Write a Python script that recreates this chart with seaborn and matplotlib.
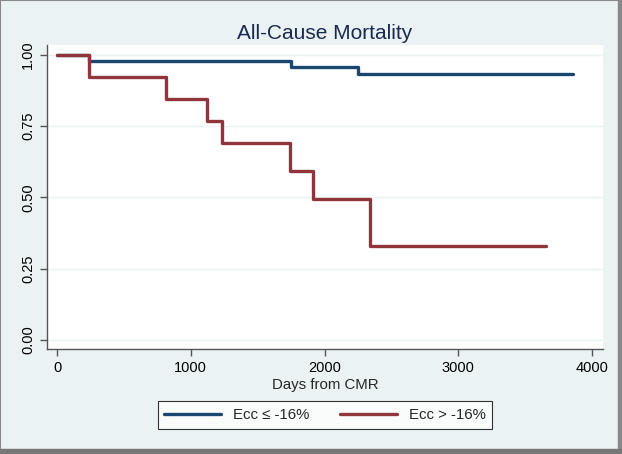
import pandas as pd
import matplotlib.pyplot as plt
import seaborn as sns
from matplotlib.patches import Rectangle

# Kaplan-Meier step values
days_low = [0, 240, 1750, 2250, 3858]
surv_low = [1.0, 0.979, 0.958, 0.933, 0.933]

days_high = [0, 240, 815, 1121, 1234, 1742, 1914, 2340, 3656]
surv_high = [1.0, 0.923, 0.846, 0.769, 0.692, 0.593, 0.495, 0.33, 0.33]

group_labels = ["Ecc \u2264 -16%", "Ecc > -16%"]
group_colors = ["#1a476f", "#90353b"]

df = pd.concat([
    pd.DataFrame({"Days": days_low, "Survival": surv_low, "Group": group_labels[0]}),
    pd.DataFrame({"Days": days_high, "Survival": surv_high, "Group": group_labels[1]}),
])

sns.set_style("white")
plt.rcParams["font.family"] = ["Liberation Sans", "DejaVu Sans"]

bg = "#eaf2f3"
fig = plt.figure(figsize=(6.22, 4.54), dpi=100, facecolor=bg)
ax = fig.add_axes([47 / 622, 1 - 349 / 454, 556 / 622, 304 / 454])
ax.set_facecolor("white")

sns.lineplot(data=df, x="Days", y="Survival", hue="Group", palette=group_colors,
             drawstyle="steps-post", linewidth=2.4, ax=ax, legend=False)

ax.set_xlim(-75, 4082)
ax.set_ylim(-0.032, 1.035)
ax.set_xticks([0, 1000, 2000, 3000, 4000])
ax.set_yticks([0, 0.25, 0.5, 0.75, 1.0])
ax.set_yticklabels(["0.00", "0.25", "0.50", "0.75", "1.00"], rotation=90, va="center")
ax.grid(axis="y", color=bg, linewidth=1)
ax.set_axisbelow(True)
for s in ["top", "right"]:
    ax.spines[s].set_visible(False)
for s in ["left", "bottom"]:
    ax.spines[s].set_color("#555555")
    ax.spines[s].set_linewidth(1)
ax.tick_params(axis="both", direction="out", length=5, width=1, color="#555555",
               labelsize=10.5, labelcolor="black", left=True, bottom=True)
ax.set_xlabel("Days from CMR", fontsize=10.8, labelpad=2)
ax.set_ylabel("")
ax.set_title("All-Cause Mortality", fontsize=15, color="#1a2a4f", pad=4)

handles = [plt.Line2D([], [], color=c, linewidth=2.4) for c in group_colors]
leg = fig.legend(handles, group_labels, loc="center", bbox_to_anchor=(325 / 622, 1 - 415 / 454),
                 ncol=2, frameon=True, fancybox=False, fontsize=10.8, handlelength=3.8,
                 columnspacing=2.0, borderpad=0.45, handletextpad=0.8)
leg.get_frame().set_edgecolor("black")
leg.get_frame().set_linewidth(0.8)
leg.get_frame().set_facecolor("white")

# screenshot-style border
fig.patches.append(Rectangle((0, 0), 1, 1, transform=fig.transFigure, fill=False,
                             edgecolor="#888888", linewidth=1.5))
fig.patches.append(Rectangle((618 / 622, 0), 4 / 622, 1, transform=fig.transFigure,
                             color="#888888"))
fig.patches.append(Rectangle((0, 0), 1, 5 / 454, transform=fig.transFigure,
                             color="#777777"))

fig.savefig("out.png", dpi=100, facecolor=bg)
